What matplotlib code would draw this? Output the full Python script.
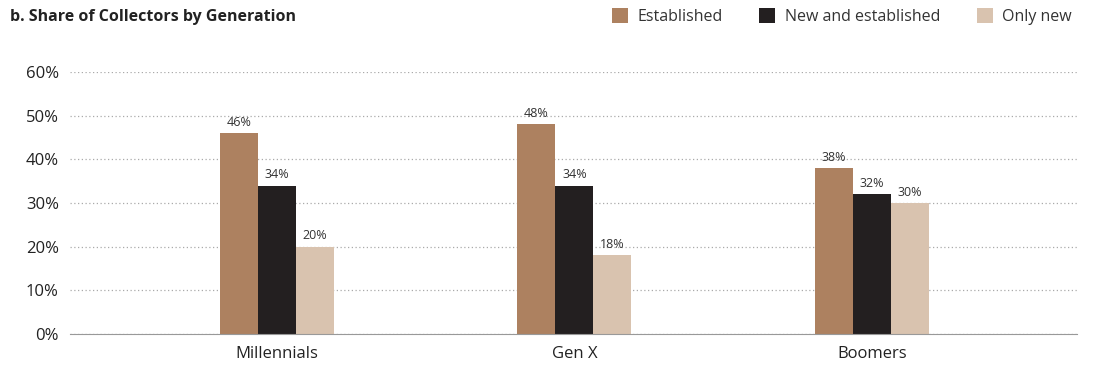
import matplotlib.pyplot as plt
import numpy as np

plt.rcParams['font.family'] = ['Open Sans', 'DejaVu Sans']

generations = ["Millennials", "Gen X", "Boomers"]
series_names = ["Established", "New and established", "Only new"]
established = [46, 48, 38]
new_and_established = [34, 34, 32]
only_new = [20, 18, 30]
colors = ["#AD8160", "#231F20", "#D9C3AF"]
yticks = [0, 10, 20, 30, 40, 50, 60]

fig = plt.figure(figsize=(10.93, 3.68), dpi=100)
ax = fig.add_axes([0.064, 0.0924, 0.921, 0.712])

x = np.arange(len(generations))
w = 0.128
for i, (vals, name, c) in enumerate(zip([established, new_and_established, only_new], series_names, colors)):
    bars = ax.bar(x + (i - 1) * w, vals, width=w, color=c, label=name, zorder=3)
    for b, v in zip(bars, vals):
        ax.text(b.get_x() + b.get_width() / 2, v + 1.0, f"{v}%", ha="center", va="bottom",
                fontsize=9, color="#333333", zorder=4)

ax.set_xlim(-0.696, 2.689)
ax.set_ylim(0, 60)
ax.set_yticks(yticks)
ax.set_yticklabels([f"{t}%" for t in yticks], fontsize=12, color="#222222")
ax.set_xticks(x)
ax.set_xticklabels(generations, fontsize=12, color="#222222")
ax.tick_params(length=0, pad=8)
ax.tick_params(axis="x", pad=9)
ax.grid(axis="y", linestyle=(0, (1, 2)), color="#aaaaaa", linewidth=0.9, zorder=0)
for s in ["top", "right", "left"]:
    ax.spines[s].set_visible(False)
ax.spines["bottom"].set_color("#999999")
ax.spines["bottom"].set_zorder(5)

fig.text(0.009, 0.955, "b. Share of Collectors by Generation", fontsize=11.5,
         fontweight="bold", color="#222222", va="center")
fig.legend(loc="center right", bbox_to_anchor=(0.994, 0.955), ncol=3, frameon=False,
           fontsize=11.5, handlelength=1.0, handleheight=1.0, handletextpad=0.6,
           columnspacing=2.3, labelcolor="#333333")

fig.savefig("out.png", dpi=100)
